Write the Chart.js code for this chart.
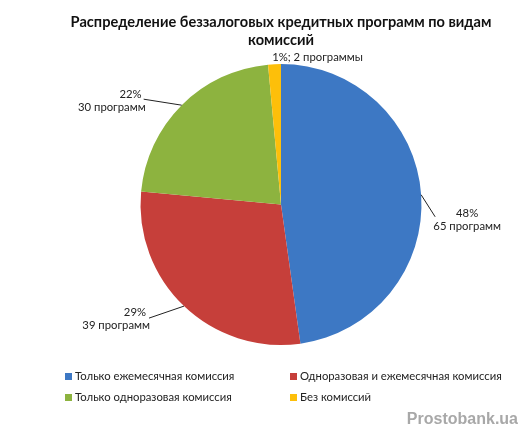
<!DOCTYPE html>
<html>
<head>
<meta charset="utf-8">
<script src="https://cdn.jsdelivr.net/npm/chart.js@4"></script>
<style>
  body { margin: 0; background: #fff; }
  #wrap { width: 532px; height: 437px; position: relative; }
</style>
</head>
<body>
<div id="wrap"><canvas id="pieChart" width="532" height="437"></canvas></div>
<script>
const categories = [
  "Только ежемесячная комиссия",
  "Одноразовая и ежемесячная комиссия",
  "Только одноразовая комиссия",
  "Без комиссий"
];
const programCounts = [65, 39, 30, 2];
const percentLabels = ["48%", "29%", "22%", "1%"];
const countLabels = ["65 программ", "39 программ", "30 программ", "2 программы"];
const sliceColors = ["#3d78c4", "#c63f3a", "#8db33f", "#fdbf0a"];

// where each label sits relative to the slice's outer edge
const labelOffsets = [
  { lx: 14, ly: 22, tx: 26, ty: 25, align: "left" },
  { lx: -35, ly: 12, tx: -38, ty: 12, align: "right" },
  { lx: -38, ly: -6, tx: -40, ty: -5, align: "right" },
  { lx: 0, ly: 0, tx: 43, ty: -7, align: "center", inline: true }
];

const labelPlugin = {
  id: "sliceLabels",
  afterDraw(chart) {
    const ctx = chart.ctx;
    const arcs = chart.getDatasetMeta(0).data;
    ctx.save();
    ctx.font = "11.3px Lato, 'Open Sans', sans-serif";
    ctx.fillStyle = "#222";
    ctx.strokeStyle = "#222";
    ctx.lineWidth = 1;
    arcs.forEach((arc, i) => {
      const p = arc.getProps(["x", "y", "startAngle", "endAngle", "outerRadius"], true);
      const mid = (p.startAngle + p.endAngle) / 2;
      const ex = p.x + Math.cos(mid) * p.outerRadius;
      const ey = p.y + Math.sin(mid) * p.outerRadius;
      const o = labelOffsets[i];
      const tx = ex + o.tx, ty = ey + o.ty;
      ctx.textAlign = o.align;
      ctx.textBaseline = "middle";
      if (o.inline) {
        ctx.fillText(percentLabels[i] + "; " + countLabels[i], tx, ty);
        return;
      }
      ctx.beginPath();
      ctx.moveTo(ex, ey);
      ctx.lineTo(ex + o.lx, ey + o.ly);
      ctx.stroke();
      if (o.align === "left") {
        ctx.textAlign = "center";
        ctx.fillText(percentLabels[i], tx + 20, ty - 6);
        ctx.fillText(countLabels[i], tx + 20, ty + 7);
      } else {
        ctx.fillText(percentLabels[i], tx, ty - 6);
        ctx.fillText(countLabels[i], tx + 4, ty + 7);
      }
    });

    // legend, two columns
    const cols = [65, 290], rows = [376, 397];
    ctx.textAlign = "left";
    ctx.font = "11.3px Lato, 'Open Sans', sans-serif";
    categories.forEach((name, i) => {
      const x = cols[i % 2], y = rows[Math.floor(i / 2)];
      ctx.fillStyle = sliceColors[i];
      ctx.fillRect(x, y - 3, 7, 7);
      ctx.fillStyle = "#222";
      ctx.fillText(name, x + 10, y);
    });

    // watermark
    ctx.font = "bold 16px 'Liberation Sans', sans-serif";
    ctx.fillStyle = "#a8a8a8";
    ctx.textAlign = "right";
    ctx.fillText("Prostobank.ua", 518, 420);
    ctx.restore();
  }
};

new Chart(document.getElementById("pieChart"), {
  type: "pie",
  data: {
    labels: categories,
    datasets: [{
      data: programCounts,
      backgroundColor: sliceColors,
      borderWidth: 0
    }]
  },
  options: {
    responsive: false,
    animation: false,
    layout: { padding: { top: 0, bottom: 92, left: 30, right: 0 } },
    plugins: {
      legend: { display: false },
      tooltip: { enabled: false },
      title: {
        display: true,
        text: ["Распределение беззалоговых кредитных программ по видам", "комиссий"],
        color: "#111",
        font: { family: "Lato, 'Open Sans', sans-serif", size: 14.6, weight: "bold", lineHeight: 1.2 },
        padding: { top: 14, bottom: 15 }
      }
    }
  },
  plugins: [labelPlugin]
});
</script>
</body>
</html>
